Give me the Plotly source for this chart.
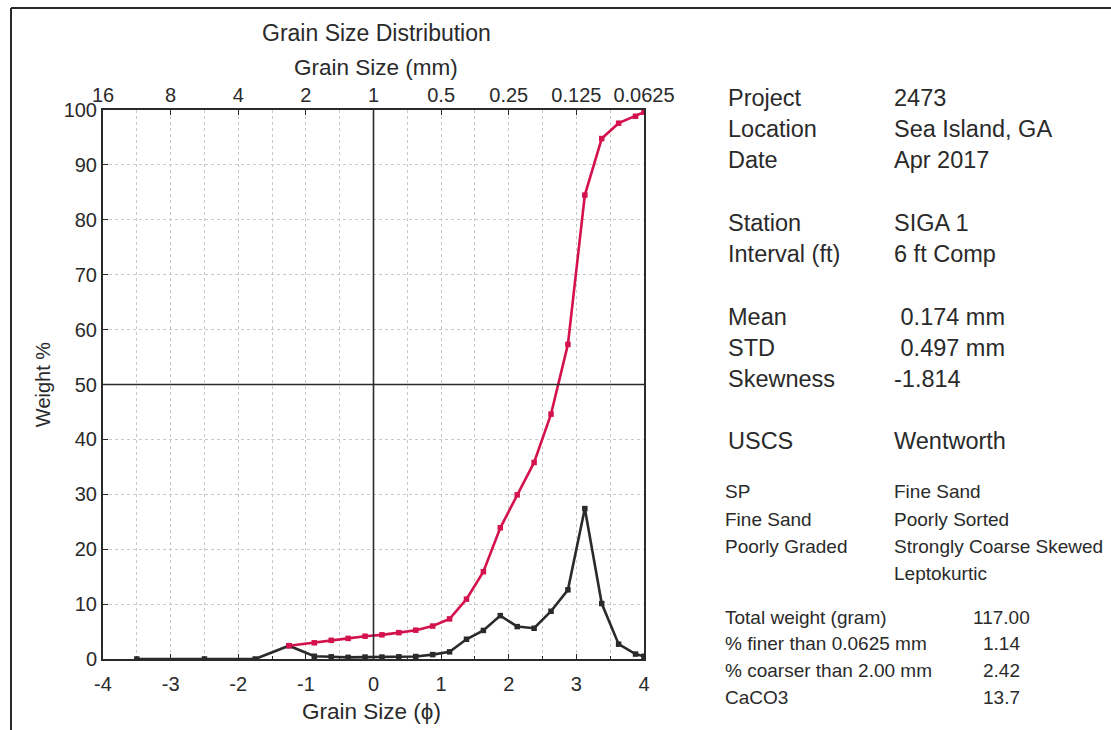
import plotly.graph_objects as go

# Sieve midpoints (phi) and measured weights
phi = [-3.5, -2.5, -1.75, -1.25, -0.875, -0.625, -0.375, -0.125, 0.125, 0.375,
       0.625, 0.875, 1.125, 1.375, 1.625, 1.875, 2.125, 2.375, 2.625, 2.875,
       3.125, 3.375, 3.625, 3.875, 4.0]
weight_pct = [0, 0, 0, 2.42, 0.5, 0.4, 0.3, 0.35, 0.35, 0.4,
              0.45, 0.8, 1.3, 3.6, 5.2, 7.9, 5.9, 5.6, 8.7, 12.6,
              27.4, 10.1, 2.7, 0.9, 0.5]

phi_cum = [-1.25, -0.875, -0.625, -0.375, -0.125, 0.125, 0.375, 0.625, 0.875,
           1.125, 1.375, 1.625, 1.875, 2.125, 2.375, 2.625, 2.875, 3.125,
           3.375, 3.625, 3.875, 4.0]
cum_pct = [2.42, 2.95, 3.4, 3.75, 4.15, 4.4, 4.8, 5.25, 6.0,
           7.3, 10.9, 15.9, 23.9, 29.9, 35.8, 44.6, 57.3, 84.5,
           94.8, 97.6, 98.86, 99.6]

phi_ticks = [-4, -3, -2, -1, 0, 1, 2, 3, 4]
phi_labels = ["-4", "-3", "-2", "-1", "0", "1", "2", "3", "4"]
mm_labels = ["16", "8", "4", "2", "1", "0.5", "0.25", "0.125", "0.0625"]
y_ticks = [0, 10, 20, 30, 40, 50, 60, 70, 80, 90, 100]

info_top = [
    ("Project", "2473"), ("Location", "Sea Island, GA"), ("Date", "Apr 2017"),
    ("Station", "SIGA 1"), ("Interval (ft)", "6 ft Comp"),
    ("Mean", " 0.174 mm"), ("STD", " 0.497 mm"), ("Skewness", "-1.814"),
    ("USCS", "Wentworth"),
]
info_top_y = [98, 129, 160, 223, 254, 317, 348, 379, 441]

uscs = ["SP", "Fine Sand", "Poorly Graded", ""]
wentworth = ["Fine Sand", "Poorly Sorted", "Strongly Coarse Skewed", "Leptokurtic"]
class_y = [491, 519, 546, 573]

stats_labels = ["Total weight (gram)", "% finer than 0.0625 mm",
                "% coarser than 2.00 mm", "CaCO3"]
stats_values = ["117.00", "1.14", "2.42", "13.7"]
stats_y = [617, 643, 670, 697]

W, H = 1111, 730
L, R, T, B = 103, 644, 110, 659
FONT = "Liberation Sans, Arial, sans-serif"
INK = "#2a2a2a"
RED = "#d4124e"


def px(x):
    return (x - L) / (R - L)


def py(y):
    return (B - y) / (B - T)


fig = go.Figure()

fig.add_trace(go.Scatter(
    x=phi, y=weight_pct, mode="lines+markers",
    line=dict(color=INK, width=2.6),
    marker=dict(symbol="square", size=5.5, color=INK),
    showlegend=False, hoverinfo="skip",
))
fig.add_trace(go.Scatter(
    x=phi_cum, y=cum_pct, mode="lines+markers",
    line=dict(color=RED, width=2.6),
    marker=dict(symbol="square", size=5.5, color=RED),
    showlegend=False, hoverinfo="skip",
))
# invisible trace to carry the top (mm) axis
fig.add_trace(go.Scatter(x=[-4, 4], y=[0, 0], xaxis="x2", mode="markers",
                         marker=dict(opacity=0), showlegend=False,
                         hoverinfo="skip"))

grid = dict(showgrid=True, gridcolor="#c8c8c8", griddash="dot", gridwidth=1)
tickfont = dict(size=20, family=FONT, color=INK)

fig.update_layout(
    width=W, height=H,
    margin=dict(l=L, r=W - R, t=T, b=H - B),
    paper_bgcolor="white", plot_bgcolor="white",
    font=dict(family=FONT, color=INK, size=20),
    xaxis=dict(
        range=[-4, 4], tickvals=phi_ticks, ticktext=phi_labels,
        ticks="inside", ticklen=5, tickcolor=INK, showline=True,
        linecolor=INK, linewidth=2, mirror=True, zeroline=False,
        tickfont=tickfont, ticklabelstandoff=6,
        minor=dict(dtick=0.5, ticks="inside", ticklen=3, tickcolor=INK,
                   showgrid=True, gridcolor="#c8c8c8", griddash="dot"),
        **grid,
    ),
    xaxis2=dict(
        range=[-4, 4], overlaying="x", side="top", tickvals=phi_ticks,
        ticktext=mm_labels, ticks="inside", ticklen=5, tickcolor=INK,
        showgrid=False, zeroline=False, showline=False, tickfont=tickfont,
        ticklabelstandoff=3,
    ),
    yaxis=dict(
        range=[0, 100], tickvals=y_ticks, ticks="inside", ticklen=5,
        tickcolor=INK, showline=True, linecolor=INK, linewidth=2,
        mirror=True, zeroline=False, tickfont=tickfont,
        title=dict(text="Weight %", font=dict(size=20), standoff=8),
        **grid,
    ),
    shapes=[
        dict(type="line", xref="x", yref="paper", x0=0, x1=0, y0=0, y1=1,
             line=dict(color=INK, width=1.6)),
        dict(type="line", xref="paper", yref="y", x0=0, x1=1, y0=50, y1=50,
             line=dict(color=INK, width=1.6)),
        # page frame
        dict(type="line", xref="paper", yref="paper", x0=px(11), x1=px(11),
             y0=py(8), y1=py(730), line=dict(color=INK, width=2)),
        dict(type="line", xref="paper", yref="paper", x0=px(11), x1=px(1111),
             y0=py(8), y1=py(8), line=dict(color=INK, width=2)),
    ],
)

ann = []
ann.append(dict(text="Grain Size Distribution", x=px(376), y=py(33),
                font=dict(size=23), xanchor="center", yanchor="middle"))
ann.append(dict(text="Grain Size (mm)", x=px(376), y=py(67),
                font=dict(size=22.5), xanchor="center", yanchor="middle"))
ann.append(dict(text="Grain Size (ϕ)", x=px(371), y=py(711),
                font=dict(size=22.5), xanchor="center", yanchor="middle"))

for (lab, val), yy in zip(info_top, info_top_y):
    ann.append(dict(text=lab, x=px(726), y=py(yy), xanchor="left",
                    yanchor="middle", font=dict(size=23.5)))
    ann.append(dict(text=val, x=px(892), y=py(yy), xanchor="left",
                    yanchor="middle", font=dict(size=23.5)))

for a, b, yy in zip(uscs, wentworth, class_y):
    if a:
        ann.append(dict(text=a, x=px(723), y=py(yy), xanchor="left",
                        yanchor="middle", font=dict(size=19)))
    ann.append(dict(text=b, x=px(892), y=py(yy), xanchor="left",
                    yanchor="middle", font=dict(size=19)))

for a, b, yy in zip(stats_labels, stats_values, stats_y):
    ann.append(dict(text=a, x=px(723), y=py(yy), xanchor="left",
                    yanchor="middle", font=dict(size=19)))
    ann.append(dict(text=b, x=px(1001), y=py(yy), xanchor="center",
                    yanchor="middle", font=dict(size=19)))

for a in ann:
    a.update(xref="paper", yref="paper", showarrow=False)
fig.update_layout(annotations=ann)

fig.write_html("out.html")
